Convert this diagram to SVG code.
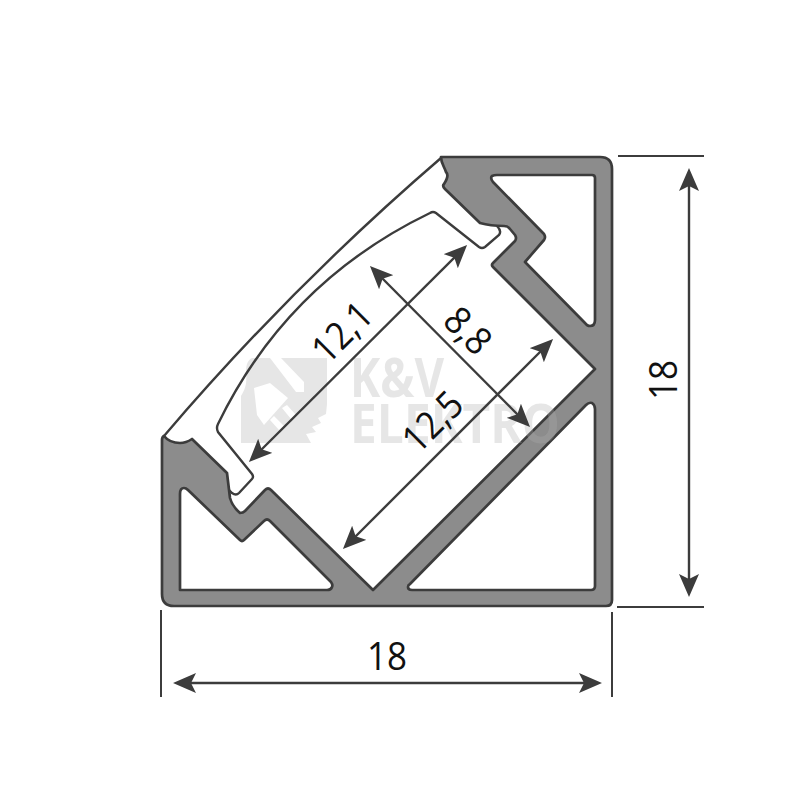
<svg xmlns="http://www.w3.org/2000/svg" width="800" height="800" viewBox="0 0 800 800">
<style>
.dim{stroke:#3c3c3c;stroke-width:2.4;fill:none}
.arrow{marker-start:url(#ah);marker-end:url(#ah)}
.ext{stroke:#3c3c3c;stroke-width:2;fill:none}
.t{font-family:"Open Sans","Liberation Sans",sans-serif;font-size:38px;fill:#111;text-anchor:middle}
.wm{font-family:"Open Sans","Liberation Sans",sans-serif;font-weight:700;font-size:54px;fill:#afafaf;fill-opacity:.31}
</style>
<defs>
<marker id="ah" markerUnits="userSpaceOnUse" viewBox="0 0 23 20" markerWidth="23" markerHeight="20" refX="13" refY="10" orient="auto-start-reverse">
<path d="M0,0L23,10L0,20L5,10Z" fill="#3c3c3c"/>
</marker>
</defs>
<rect width="800" height="800" fill="#fff"/>
<g id="profile">
<path fill="#8c8c8c" stroke="#3c3c3c" stroke-width="2.7" stroke-linejoin="round" fill-rule="evenodd" d="M441,157H600Q612,157 612,169V600Q612,606 606,606H174Q162,606 162,594V440Q162,437 164,436C168,441 174,443 180,443C186,443 189,441 192,439L227,473L230,498Q232,506 240,513Q243,513 245,511L265,490Q268,487 271,490L373,590L595,369L493,267Q491,265 493,263L515,241Q517,238 515,235L510,229Q508,226 504,226C495,226 487,225 480,223L445,189Q442,186 444,184C448,178 448,174 446,172C444,166 441,163 441,157Z
M497,175H592Q595,175 595,178V320Q595,326 590,326Q587,326 585,323L525,262L544,240Q546,237 544,234L493,182Q490,178 492,176Q494,175 497,175Z
M592,403Q595,405 595,409V586Q595,590 591,590H412Q408,590 408,587Q408,585 410,584L586,405Q589,402 592,403Z
M180,494Q180,488 184,488Q186,488 188,490L240,540Q242,542 244,540L264,521Q267,518 270,521L331,582Q333,585 332,587Q331,590 327,590H180Z"/>
</g>
<g id="watermark">
<path d="M252,358H327V404L326,414L318,418L321,423L312,427L316,432L306,434L311,443H241V396C246,388 247,382 246,372C246,364 248,360 252,358Z" fill="#e6e6e6"/>
<path d="M270,358H281L304,382V392L296,392ZM254,388L270,383L288,398L264,425L257,415ZM282,408L287,405L296,415L291,419ZM270,420L274,416L284,426L279,430Z" fill="#fff"/>
<text class="wm" x="350" y="397" textLength="94" lengthAdjust="spacingAndGlyphs">K&amp;V</text>
<text class="wm" x="350" y="443" textLength="210" lengthAdjust="spacingAndGlyphs">ELEKTRO</text>
</g>
<g id="diffuser">
<path d="M164,436Q291,287 441,158" fill="none" stroke="#3c3c3c" stroke-width="2.4"/>
<path d="M497,226Q502,231 499,235L485,247Q482,249 479,247L436,213Q433,211 430,213Q287,282 218,424Q216,428 218,432L252,474Q254,477 252,479L239,493Q236,496 232,493L229,490" fill="none" stroke="#3c3c3c" stroke-width="2.4"/>
</g>
<g id="connectors">
<path class="ext" d="M618,156H704M617,607H704M161,610V697M612,612V697"/>
<path class="dim arrow" d="M689,178V587"/>
<path class="dim arrow" d="M183,683H592"/>
<path class="dim arrow" d="M256,455L460,252"/>
<path class="dim arrow" d="M377,273L523,420"/>
<path class="dim arrow" d="M350,542L546,346"/>
</g>
<g id="labels">
<text class="t" x="387" y="670" textLength="40" lengthAdjust="spacingAndGlyphs">18</text>
<text class="t" transform="translate(677,380) rotate(-90)" textLength="40" lengthAdjust="spacingAndGlyphs">18</text>
<text class="t" transform="translate(351.5,341.5) rotate(-45)" textLength="68" lengthAdjust="spacingAndGlyphs">12,1</text>
<text class="t" transform="translate(442,431) rotate(-45)" textLength="68" lengthAdjust="spacingAndGlyphs">12,5</text>
<text class="t" transform="translate(458.5,340) rotate(45)" textLength="49" lengthAdjust="spacingAndGlyphs">8,8</text>
</g>
</svg>
